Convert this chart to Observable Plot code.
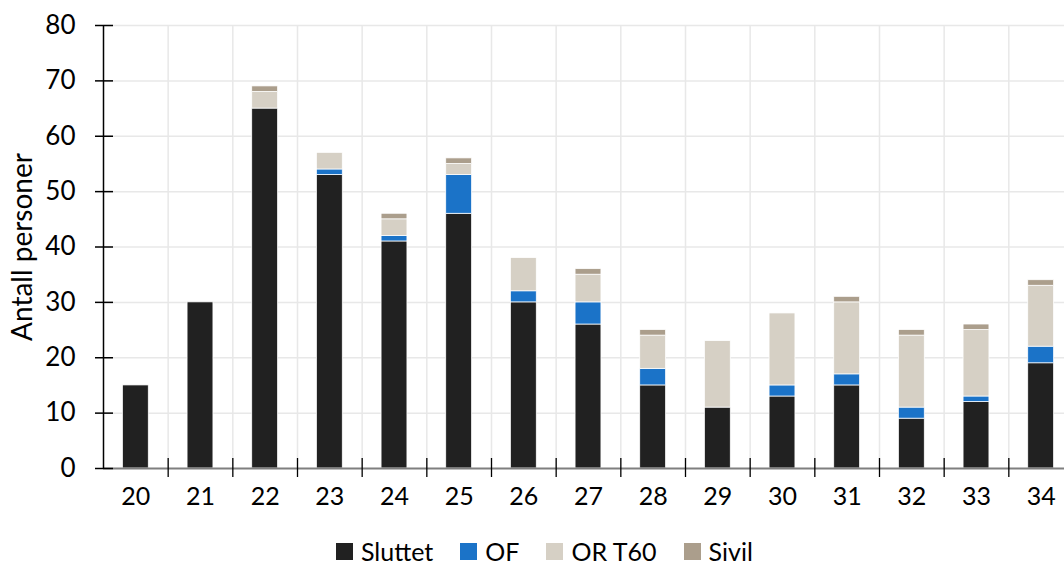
<!DOCTYPE html>
<html>
<head>
<meta charset="utf-8">
<script src="https://cdn.jsdelivr.net/npm/d3@7"></script>
<script src="https://cdn.jsdelivr.net/npm/@observablehq/plot@0.6"></script>
<style>
  html, body { margin: 0; padding: 0; background: #fff; overflow: hidden; }
  #wrap { position: relative; width: 1064px; height: 567px; font-family: Lato, "Open Sans", sans-serif; }
  #legend { position: absolute; left: 336px; top: 541px; height: 20px; display: flex; align-items: center; font-size: 25px; color: #000; line-height: 20px; }
  #legend .item { display: flex; align-items: center; margin-right: 27px; height: 20px; }
  #legend .sw { width: 17px; height: 17px; margin-right: 8px; }
</style>
</head>
<body>
<div id="wrap"></div>
<script>
// Alder (år) og antall personer per kategori
const ages    = [20, 21, 22, 23, 24, 25, 26, 27, 28, 29, 30, 31, 32, 33, 34];
const sluttet = [15, 30, 65, 53, 41, 46, 30, 26, 15, 11, 13, 15,  9, 12, 19];
const of      = [ 0,  0,  0,  1,  1,  7,  2,  4,  3,  0,  2,  2,  2,  1,  3];
const orT60   = [ 0,  0,  3,  3,  3,  2,  6,  5,  6, 12, 13, 13, 13, 12, 11];
const sivil   = [ 0,  0,  1,  0,  1,  1,  0,  1,  1,  0,  0,  1,  1,  1,  1];

const seriesNames  = ["Sluttet", "OF", "OR T60", "Sivil"];
const seriesColors = ["#212121", "#1b73c8", "#d6d0c5", "#ab9e8c"];
const yTicks = [0, 10, 20, 30, 40, 50, 60, 70, 80];

const seriesValues = [sluttet, of, orT60, sivil];
const rows = [];
ages.forEach((age, i) => {
  seriesNames.forEach((name, s) => {
    rows.push({age, series: name, value: seriesValues[s][i]});
  });
});

// Kategorigrenser (mellom aldersgruppene)
const bounds = ages.map(a => a + 0.5);
const half = 0.2; // halv søylebredde i aldersenheter

const chart = Plot.plot({
  width: 1064,
  height: 530,
  marginLeft: 103,
  marginRight: -9,
  marginTop: 25,
  marginBottom: 62,
  style: {fontFamily: "Lato, 'Open Sans', sans-serif", fontSize: "25px", color: "#000", background: "#fff", overflow: "hidden"},
  x: {domain: [19.5, 34.5], axis: null},
  y: {domain: [0, 80], axis: null},
  color: {domain: seriesNames, range: seriesColors},
  marks: [
    // rutenett
    Plot.ruleY(yTicks.slice(1), {stroke: "#e8e8e8", strokeWidth: 1.5}),
    Plot.ruleX(bounds, {stroke: "#e8e8e8", strokeWidth: 1.5}),
    // stablede søyler
    Plot.rectY(rows, Plot.stackY({
      x1: d => d.age - half,
      x2: d => d.age + half,
      y: "value",
      fill: "series",
      order: seriesNames,
      stroke: "#ffffff",
      strokeWidth: 0.75
    })),
    // x-akse
    Plot.ruleY([0], {stroke: "#7f7f7f", strokeWidth: 2}),
    Plot.ruleX(bounds, {y1: 0, y2: 0, insetTop: -10, insetBottom: -9, stroke: "#000", strokeWidth: 1.3}),
    Plot.text(ages, {x: d => d, y: 0, dy: 28, text: d => String(d), fill: "#000"}),
    // y-akse
    Plot.ruleX([19.5], {stroke: "#000", strokeWidth: 1.5}),
    Plot.ruleY(yTicks, {x1: 19.5, x2: 19.5, insetLeft: -8, insetRight: -10, stroke: "#000", strokeWidth: 1.5}),
    Plot.text(yTicks, {x: 19.5, y: d => d, dx: -28, textAnchor: "end", text: d => String(d), fill: "#000", fontSize: 26}),
    Plot.text(["Antall personer"], {frameAnchor: "left", dx: -80, rotate: -90, textAnchor: "middle", fontSize: 28, fill: "#000"})
  ]
});

const wrap = document.getElementById("wrap");
wrap.appendChild(chart);

// Tegnforklaring under diagrammet
const legend = document.createElement("div");
legend.id = "legend";
seriesNames.forEach((name, i) => {
  const item = document.createElement("div");
  item.className = "item";
  const sw = document.createElement("span");
  sw.className = "sw";
  sw.style.background = seriesColors[i];
  const label = document.createElement("span");
  label.textContent = name;
  item.appendChild(sw);
  item.appendChild(label);
  legend.appendChild(item);
});
wrap.appendChild(legend);
</script>
</body>
</html>
